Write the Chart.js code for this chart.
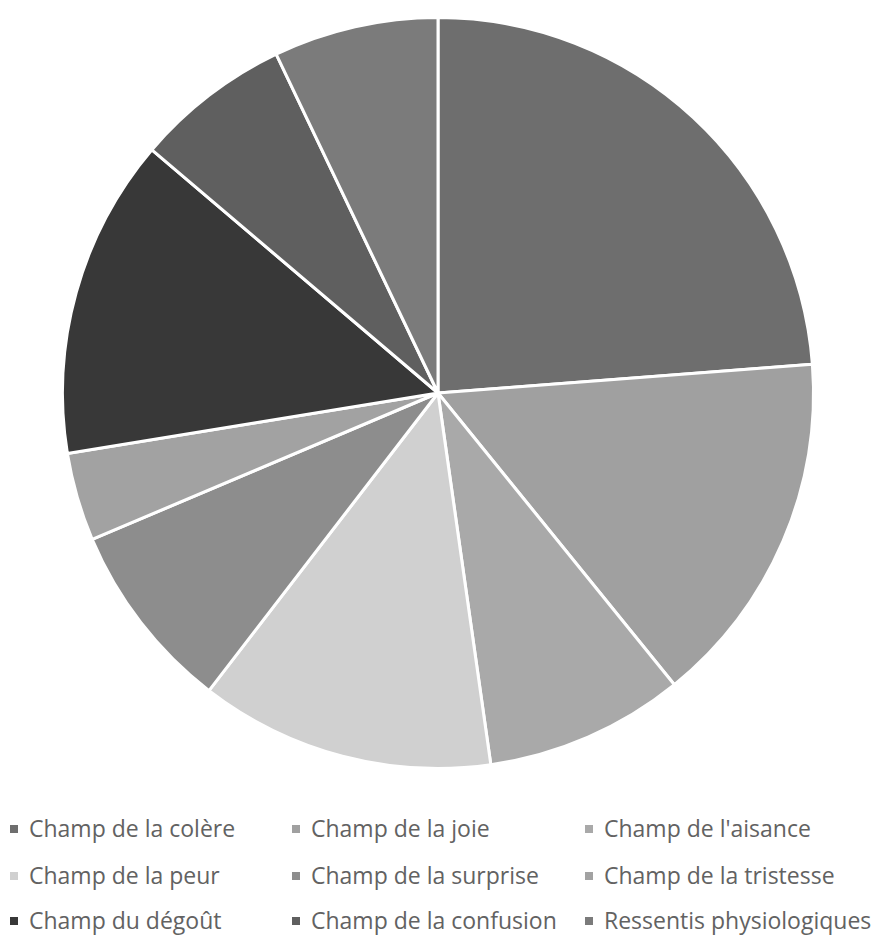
<!DOCTYPE html>
<html><head><meta charset="utf-8">
<script src="https://cdn.jsdelivr.net/npm/chart.js@4/dist/chart.umd.min.js"></script>
<style>
html,body{margin:0;padding:0;background:#fff;width:883px;height:936px;overflow:hidden}
#wrap{position:absolute;left:0;top:0;width:883px;height:786px}
#legend{position:absolute;left:0;top:806px;width:883px;font-family:"Open Sans",sans-serif;font-size:23px;color:#626262}
.item{position:absolute;white-space:nowrap;line-height:24px}
.box{display:inline-block;width:8px;height:8px;margin-right:11px;vertical-align:middle;position:relative;top:-2px}
</style></head>
<body>
<div id="wrap"><canvas id="c"></canvas></div>
<div id="legend"></div>
<script>
const categories = ["Champ de la colère","Champ de la joie","Champ de l'aisance","Champ de la peur","Champ de la surprise","Champ de la tristesse","Champ du dégoût","Champ de la confusion","Ressentis physiologiques"];
const values = [23.8, 15.4, 8.6, 12.7, 8.2, 3.8, 13.8, 6.7, 7.1];
const colors = ["#6e6e6e","#a0a0a0","#a9a9a9","#d0d0d0","#8d8d8d","#a2a2a2","#383838","#5f5f5f","#7b7b7b"];

new Chart(document.getElementById('c'), {
  type: 'pie',
  data: { labels: categories, datasets: [{ data: values, backgroundColor: colors, borderColor: '#ffffff', borderWidth: 3 }] },
  options: {
    responsive: true, maintainAspectRatio: false, animation: false,
    layout: { padding: { top: 16, bottom: 16, left: 61, right: 68 } },
    plugins: { legend: { display: false }, tooltip: { enabled: false } }
  }
});

const legend = document.getElementById('legend');
const colX = [10, 292, 585];
const rowY = [10, 57, 102];
categories.forEach((name, i) => {
  const d = document.createElement('div');
  d.className = 'item';
  d.style.left = colX[i % 3] + 'px';
  d.style.top = rowY[Math.floor(i / 3)] + 'px';
  d.innerHTML = '<span class="box" style="background:' + colors[i] + '"></span>' + name;
  legend.appendChild(d);
});
</script>
</body></html>
